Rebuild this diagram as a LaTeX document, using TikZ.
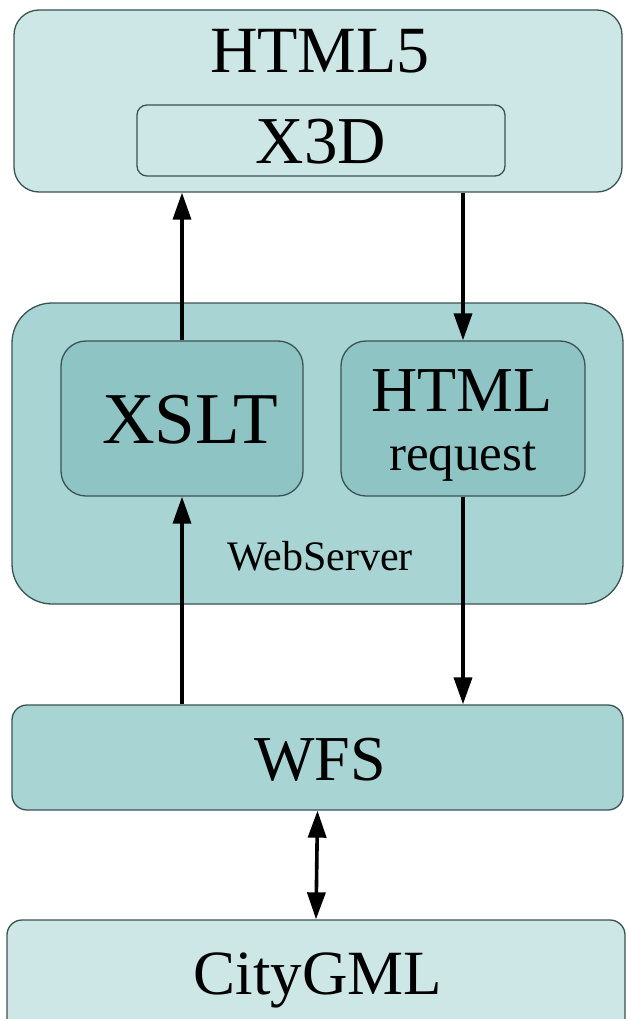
\documentclass[tikz,border=0pt]{standalone}
\usepackage{fontspec}
\setmainfont{Liberation Serif}
\usetikzlibrary{arrows.meta}
\definecolor{lightc}{HTML}{CDE6E6}
\definecolor{midc}{HTML}{A9D4D4}
\definecolor{darkc}{HTML}{8EC4C4}
\definecolor{bordc}{HTML}{3A5252}
\tikzset{
  box/.style={draw=bordc, line width=1.3pt, inner sep=0pt},
  lbl/.style={inner sep=0pt, text=black},
  arr/.style={line width=3.6pt, -{Triangle[length=27pt,width=18pt]}},
  darr/.style={line width=3.6pt, {Triangle[length=27pt,width=18pt]}-{Triangle[length=27pt,width=18pt]}},
  fs/.style={font=\fontsize{#1}{#1}\selectfont}
}
\begin{document}
\begin{tikzpicture}[x=1pt,y=-1pt]
\useasboundingbox (0,0) rectangle (625,1019);
% boxes
\node[box, fill=lightc, rounded corners=25pt, minimum width=608pt, minimum height=182pt] (html5) at (318,101) {};
\node[box, fill=lightc, rounded corners=10pt, minimum width=368pt, minimum height=71pt] (x3d) at (321,140.5) {};
\node[box, fill=midc, rounded corners=40pt, minimum width=611pt, minimum height=301pt] (web) at (317.5,453.5) {};
\node[box, fill=darkc, rounded corners=25pt, minimum width=242pt, minimum height=155pt] (xslt) at (182,418.5) {};
\node[box, fill=darkc, rounded corners=25pt, minimum width=244pt, minimum height=155pt] (req) at (463,418.5) {};
\node[box, fill=midc, rounded corners=15pt, minimum width=611pt, minimum height=105pt] (wfs) at (317.5,757.5) {};
\node[box, fill=lightc, rounded corners=15pt, minimum width=618pt, minimum height=140pt] (city) at (316,990) {};
% labels
\node[lbl, fs=66, anchor=base] (t5) at (320,73) {HTML5};
\node[lbl, fs=67, anchor=base] (tx) at (321,164) {X3D};
\node[lbl, fs=73, anchor=base] (txs) at (190,443) {XSLT};
\node[lbl, fs=64, anchor=base] (th) at (462,411) {HTML};
\node[lbl, fs=51, anchor=base] (tr) at (463,470) {request};
\node[lbl, fs=42, anchor=base] (tw) at (320,570) {WebServer};
\node[lbl, fs=64, anchor=base] (tf) at (320,780) {WFS};
\node[lbl, fs=63, anchor=base] (tc) at (318,994) {CityGML};
% connectors
\draw[arr] (wfs.north -| xslt.south) -- (xslt.south);
\draw[arr] (xslt.north) -- (html5.south -| xslt.north);
\draw[arr] (html5.south -| req.north) -- (req.north);
\draw[arr] (req.south) -- (wfs.north -| req.south);
\draw[darr] (wfs.south) -- (city.north);
\end{tikzpicture}
\end{document}
